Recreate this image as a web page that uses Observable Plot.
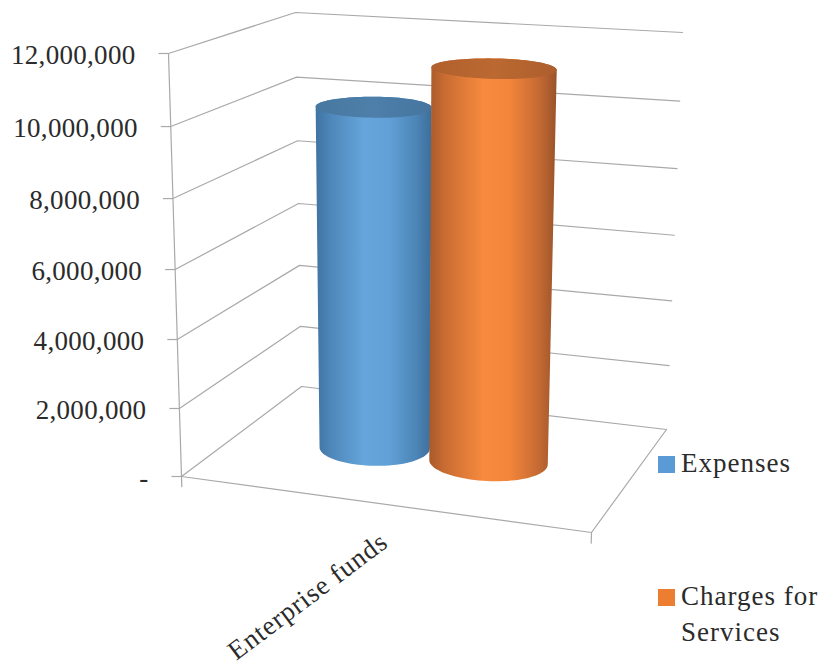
<!DOCTYPE html>
<html>
<head>
<meta charset="utf-8">
<script src="https://cdn.jsdelivr.net/npm/d3@7"></script>
<script src="https://cdn.jsdelivr.net/npm/@observablehq/plot@0.6"></script>
<style>
html,body{margin:0;padding:0;background:#fff}
#wrap{position:relative;width:821px;height:666px;overflow:hidden}
svg{display:block}
.num text{letter-spacing:.3px}
.cat text{letter-spacing:.9px}
.lg{position:absolute;left:681px;font:27px/35.5px "Liberation Serif",serif;color:#2b2b2b;letter-spacing:1px}
.sw{position:absolute;left:658px;width:17px;height:17px}
</style>
</head>
<body>
<div id="wrap"></div>
<script>
// Chart values
const categories = ["Enterprise funds"];
const seriesNames = ["Expenses", "Charges for Services"];
const seriesValues = [10140000, 11480000];
const seriesColors = ["#5b9bd5", "#ed7d31"];
const tickValues = [0, 2000000, 4000000, 6000000, 8000000, 10000000, 12000000];
const tickLabels = ["-", "2,000,000", "4,000,000", "6,000,000", "8,000,000", "10,000,000", "12,000,000"];
const vMax = 12000000;

// Camera: the eight screen corners of the 3D plot box (u across, v up, d into the page)
const box = {
  floor: [[181,476],[591,532],[666,429],[301,386]],
  roof:  [[168,53],[604,88],[682,32],[295,12]]
};
const perspective = 0.044;
const seat = {
  Expenses: {u:.342, d:.51, ru:.134, rd:.18},
  "Charges for Services": {u:.636, d:.51, ru:.147, rd:.18}
};

function face(c,u,d){
  return [0,1].map(i => c[0][i]*(1-u)*(1-d)+c[1][i]*u*(1-d)+c[2][i]*u*d+c[3][i]*(1-u)*d);
}
function project(u,value,d){
  const f = value/vMax, w = f/(1+perspective*(1-f));
  const a = face(box.floor,u,d), b = face(box.roof,u,d);
  return [a[0]+(b[0]-a[0])*w, a[1]+(b[1]-a[1])*w];
}
const X = p => p[0], Y = p => p[1];

const gridlines = tickValues.map(v => [project(0,v,0),project(0,v,1),project(1,v,1)]);
const floorEdges = [project(0,0,0),project(1,0,0),project(1,0,1)];
const leftAxis = [project(0,vMax,0),project(0,-300000,0)];
const rightStub = [project(1,0,0),project(1,-300000,0)];

const angles = d3.range(0,360,4);
function ring(name,value){
  const s = seat[name];
  return angles.map(t => project(s.u+s.ru*Math.cos(t*Math.PI/180),value,s.d+s.rd*Math.sin(t*Math.PI/180)));
}
const ids = ["blue","orange"];
const cylinderMarks = seriesNames.flatMap((name,i) => {
  const top = ring(name,seriesValues[i]);
  const hull = d3.polygonHull(ring(name,0).concat(top));
  return [
    Plot.line(hull.concat([hull[0]]),{x:X,y:Y,fill:`url(#body-${ids[i]})`,stroke:"none"}),
    Plot.line(top.concat([top[0]]),{x:X,y:Y,fill:`url(#cap-${ids[i]})`,stroke:"none"})
  ];
});

const gridColor = "#a9a9ab";
const ink = "#2b2b2b";
const tickData = tickValues.map((v,i) => ({p:project(0,v,0),label:tickLabels[i]}));

const chart = Plot.plot({
  width:821,height:666,margin:0,
  x:{domain:[0,821],range:[0,821],axis:null},
  y:{domain:[0,666],range:[0,666],axis:null},
  style:{background:"#fff"},
  marks:[
    ...gridlines.map(g => Plot.line(g,{x:X,y:Y,stroke:gridColor,strokeWidth:1.2})),
    Plot.line(floorEdges,{x:X,y:Y,stroke:gridColor,strokeWidth:1.2}),
    Plot.line(leftAxis,{x:X,y:Y,stroke:gridColor,strokeWidth:1.2}),
    Plot.line(rightStub,{x:X,y:Y,stroke:gridColor,strokeWidth:1.2}),
    Plot.link(tickData,{x1:d=>d.p[0]-10,x2:d=>d.p[0],y1:d=>d.p[1],y2:d=>d.p[1],stroke:gridColor,strokeWidth:1.2}),
    ...cylinderMarks,
    Plot.text(tickData,{className:"num",x:d=>d.p[0],y:d=>d.p[1],text:"label",textAnchor:"end",dx:-33,dy:2,fontSize:27,fontFamily:"Liberation Serif",fill:ink}),
    Plot.text(categories,{className:"cat",x:()=>project(.5,0,0)[0],y:()=>project(.5,0,0)[1],text:d=>d,textAnchor:"end",rotate:-37,dx:-2,dy:34,fontSize:27,fontFamily:"Liberation Serif",fill:ink})
  ]
});

const defs = d3.select(chart).append("defs");
function grad(id,stops){
  const g = defs.append("linearGradient").attr("id",id).attr("x1",0).attr("x2",1).attr("y1",0).attr("y2",0);
  stops.forEach(([o,c]) => g.append("stop").attr("offset",o).attr("stop-color",c));
}
grad("body-blue",[[0,"#3f73a2"],[.14,"#4f88bb"],[.42,"#65a5db"],[.62,"#62a1d8"],[.86,"#4d86b8"],[1,"#3c6e9a"]]);
grad("cap-blue",[[0,"#47789f"],[.5,"#4d7faa"],[1,"#45759f"]]);
grad("body-orange",[[0,"#a9592a"],[.12,"#c96c32"],[.42,"#f68a3e"],[.62,"#f4863b"],[.86,"#c56a33"],[1,"#99532a"]]);
grad("cap-orange",[[0,"#b1602d"],[.5,"#bb6931"],[1,"#ad5e2c"]]);

const wrap = document.getElementById("wrap");
wrap.appendChild(chart);

// Legend
const legendRows = [{top:456,swatch:0,label:"Expenses",textTop:446},{top:589,swatch:1,label:"Charges for<br>Services",textTop:579}];
legendRows.forEach(r => {
  const s = document.createElement("div");
  s.className = "sw"; s.style.top = r.top+"px"; s.style.background = seriesColors[r.swatch];
  wrap.appendChild(s);
  const t = document.createElement("div");
  t.className = "lg"; t.style.top = r.textTop+"px"; t.innerHTML = r.label;
  wrap.appendChild(t);
});
</script>
</body>
</html>
